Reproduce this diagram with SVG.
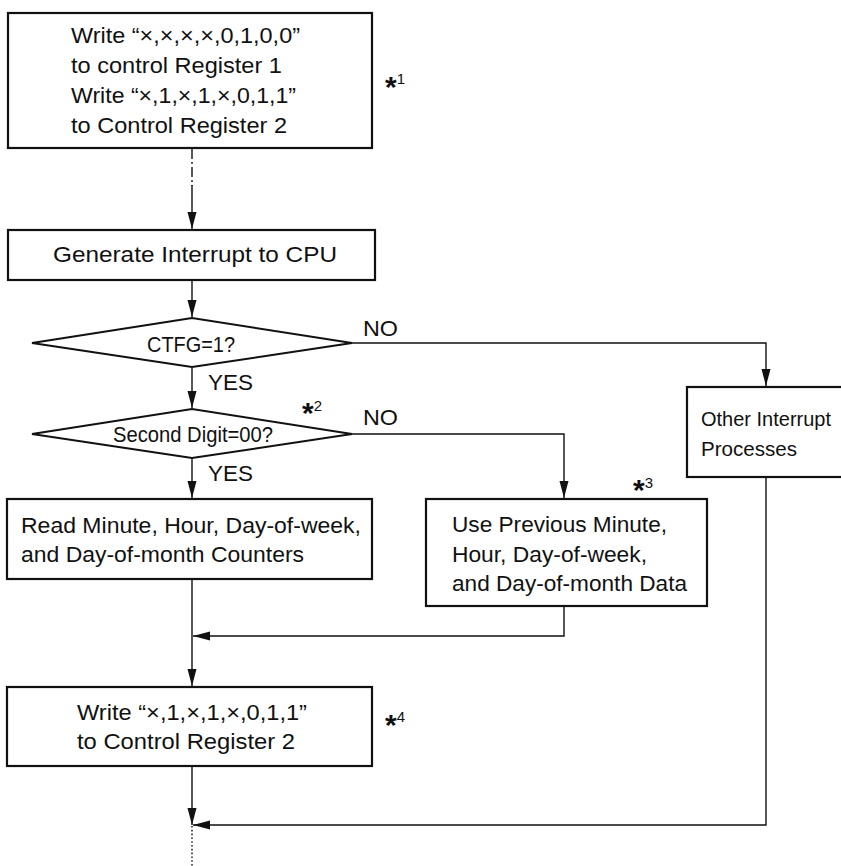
<svg xmlns="http://www.w3.org/2000/svg" width="841" height="866" viewBox="0 0 841 866">
<defs>
<style>
.box{fill:#fff;stroke:#111;stroke-width:2.2}
.dia{fill:#fff;stroke:#111;stroke-width:2}
.ln{fill:none;stroke:#111;stroke-width:1.4}
.t{font-family:"Liberation Sans",Arial,sans-serif;font-size:22.5px;fill:#111}
.s{font-family:"Liberation Sans",Arial,sans-serif;fill:#111}
</style>
<marker id="ah" markerUnits="userSpaceOnUse" markerWidth="18" markerHeight="10" refX="17" refY="4.5" orient="auto">
<path d="M0,0 L17,4.5 L0,9 z" fill="#111"/>
</marker>
</defs>
<rect width="841" height="866" fill="#fff"/>
<g id="connectors">
<path class="ln" d="M192,149 V186" stroke-dasharray="10,3,2,3"/>
<path class="ln" d="M192,185 V229" marker-end="url(#ah)"/>
<path class="ln" d="M192,281 V317" marker-end="url(#ah)"/>
<path class="ln" d="M192,368 V408" marker-end="url(#ah)"/>
<path class="ln" d="M192,459 V498" marker-end="url(#ah)"/>
<path class="ln" d="M192,580 V686" marker-end="url(#ah)"/>
<path class="ln" d="M192,767 V825" marker-end="url(#ah)"/>
<path class="ln" d="M192,826 V866" stroke-dasharray="1.6,2.2"/>
<path class="ln" d="M352,343 H766 V386" marker-end="url(#ah)"/>
<path class="ln" d="M766,478 V825 H193" marker-end="url(#ah)"/>
<path class="ln" d="M352,434 H564 V498" marker-end="url(#ah)"/>
<path class="ln" d="M564,607 V636 H193" marker-end="url(#ah)"/>
</g>
<g id="labels">
<text class="t" x="363" y="336" textLength="35" lengthAdjust="spacingAndGlyphs">NO</text>
<text class="t" x="363" y="425" textLength="35" lengthAdjust="spacingAndGlyphs">NO</text>
<text class="t" x="208" y="390" textLength="45" lengthAdjust="spacingAndGlyphs">YES</text>
<text class="t" x="208" y="481" textLength="45" lengthAdjust="spacingAndGlyphs">YES</text>
</g>
<g id="node-init">
<rect class="box" x="8" y="13" width="364" height="135"/>
<text class="t" x="71" y="43" textLength="229" lengthAdjust="spacingAndGlyphs">Write “×,×,×,×,0,1,0,0”</text>
<text class="t" x="71" y="73" textLength="211" lengthAdjust="spacingAndGlyphs">to control Register 1</text>
<text class="t" x="71" y="103" textLength="225" lengthAdjust="spacingAndGlyphs">Write “×,1,×,1,×,0,1,1”</text>
<text class="t" x="71" y="133" textLength="216" lengthAdjust="spacingAndGlyphs">to Control Register 2</text>
<text class="s" x="385"><tspan y="97" font-size="30" font-weight="bold">*</tspan><tspan y="84" font-size="15">1</tspan></text>
</g>
<g id="node-interrupt">
<rect class="box" x="8" y="230" width="367" height="50"/>
<text class="t" x="53" y="262" textLength="284" lengthAdjust="spacingAndGlyphs">Generate Interrupt to CPU</text>
</g>
<g id="node-ctfg">
<polygon class="dia" points="32,343 192,318 352,343 192,367"/>
<text class="t" x="147" y="352" textLength="88" lengthAdjust="spacingAndGlyphs">CTFG=1?</text>
</g>
<g id="node-second">
<polygon class="dia" points="32,434 192,409 352,434 192,458"/>
<text class="t" x="113" y="442" textLength="160" lengthAdjust="spacingAndGlyphs">Second Digit=00?</text>
<text class="s" x="302"><tspan y="423" font-size="30" font-weight="bold">*</tspan><tspan y="411" font-size="15">2</tspan></text>
</g>
<g id="node-other">
<rect class="box" x="687" y="387" width="170" height="90"/>
<text class="t" x="701" y="426" font-size="21" style="font-size:21px" textLength="130" lengthAdjust="spacingAndGlyphs">Other Interrupt</text>
<text class="t" x="701" y="456" style="font-size:21px" textLength="96" lengthAdjust="spacingAndGlyphs">Processes</text>
</g>
<g id="node-read">
<rect class="box" x="7" y="499" width="365" height="80"/>
<text class="t" x="21" y="533" textLength="340" lengthAdjust="spacingAndGlyphs">Read Minute, Hour, Day-of-week,</text>
<text class="t" x="21" y="562" textLength="283" lengthAdjust="spacingAndGlyphs">and Day-of-month Counters</text>
</g>
<g id="node-previous">
<rect class="box" x="426" y="499" width="281" height="107"/>
<text class="t" x="452" y="532" textLength="215" lengthAdjust="spacingAndGlyphs">Use Previous Minute,</text>
<text class="t" x="452" y="562" textLength="195" lengthAdjust="spacingAndGlyphs">Hour, Day-of-week,</text>
<text class="t" x="452" y="591" textLength="235" lengthAdjust="spacingAndGlyphs">and Day-of-month Data</text>
<text class="s" x="633"><tspan y="500" font-size="30" font-weight="bold">*</tspan><tspan y="488" font-size="15">3</tspan></text>
</g>
<g id="node-write2">
<rect class="box" x="7" y="687" width="365" height="79"/>
<text class="t" x="77" y="720" textLength="230" lengthAdjust="spacingAndGlyphs">Write “×,1,×,1,×,0,1,1”</text>
<text class="t" x="77" y="749" textLength="218" lengthAdjust="spacingAndGlyphs">to Control Register 2</text>
<text class="s" x="385"><tspan y="735" font-size="30" font-weight="bold">*</tspan><tspan y="722" font-size="15">4</tspan></text>
</g>
</svg>
